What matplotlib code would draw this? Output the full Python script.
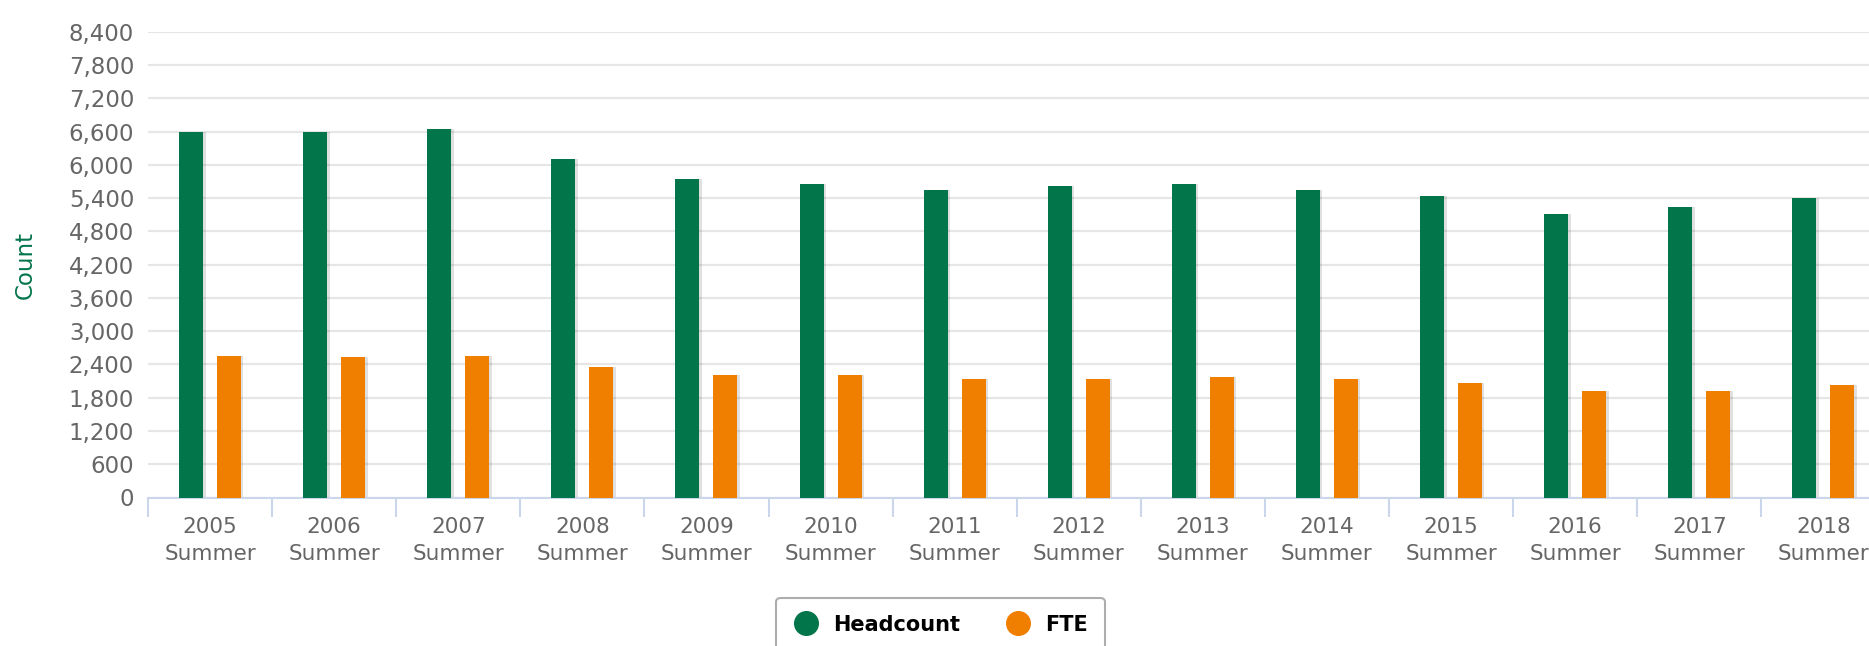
import numpy as np
import matplotlib
matplotlib.use("Agg")
import matplotlib.pyplot as plt
from matplotlib.lines import Line2D
from matplotlib.ticker import FuncFormatter

plt.rcParams['font.family'] = ['DejaVu Sans']

years = ['2005', '2006', '2007', '2008', '2009', '2010', '2011',
         '2012', '2013', '2014', '2015', '2016', '2017', '2018']
term = 'Summer'
headcount = [6590, 6590, 6640, 6100, 5750, 5650, 5540,
             5610, 5650, 5540, 5430, 5110, 5230, 5410]
fte = [2555, 2525, 2560, 2345, 2210, 2210, 2140,
       2140, 2180, 2140, 2070, 1920, 1920, 2030]
y_ticks = list(range(0, 8401, 600))

green = '#03754b'
orange = '#f07f00'
grey_text = '#666666'
axis_blue = '#ccd6eb'

fig = plt.figure(figsize=(18.69, 6.46), dpi=100)
# plot area runs past the right edge of the picture, like the screenshot
ax = fig.add_axes([148 / 1869, 1 - 497.5 / 646, 1737.4 / 1869, (497.5 - 31.7) / 646])

x = np.arange(len(years))
off = 0.153
w = 0.193

# soft shadows behind the bars
ax.bar(x - off + 0.014, headcount, w + 0.012, color='#000000', alpha=0.12, zorder=2)
ax.bar(x + off + 0.014, fte, w + 0.012, color='#000000', alpha=0.12, zorder=2)
ax.bar(x - off, headcount, w, color=green, zorder=3)
ax.bar(x + off, fte, w, color=orange, zorder=3)

ax.set_xlim(-0.5, len(years) - 0.5)
ax.set_ylim(0, 8400)
ax.set_yticks(y_ticks)
ax.yaxis.set_major_formatter(FuncFormatter(lambda v, p: f'{int(v):,}'))
ax.grid(axis='y', color='#e6e6e6', linewidth=1.6, zorder=0)
ax.set_axisbelow(True)

ax.set_xticks(x)
ax.set_xticklabels([f'{y}\n{term}' for y in years])
ax.set_xticks(np.arange(-0.5, len(years)), minor=True)
ax.tick_params(axis='x', which='major', length=0, pad=14, labelsize=15.5,
               labelcolor=grey_text)
ax.tick_params(axis='x', which='minor', length=14, width=1.5, color=axis_blue)
ax.tick_params(axis='y', length=0, pad=10, labelsize=16.5, labelcolor=grey_text)
for lbl in ax.get_xticklabels():
    lbl.set_linespacing(1.45)

for s in ['top', 'right', 'left']:
    ax.spines[s].set_visible(False)
ax.spines['bottom'].set_color(axis_blue)
ax.spines['bottom'].set_linewidth(1.5)

ax.set_ylabel('Count', color=green, fontsize=16.5)
ax.yaxis.set_label_coords(-0.064, 0.5)

handles = [Line2D([], [], marker='o', linestyle='none', markersize=17,
                  markerfacecolor=green, markeredgecolor=green),
           Line2D([], [], marker='o', linestyle='none', markersize=17,
                  markerfacecolor=orange, markeredgecolor=orange)]
leg = fig.legend(handles, ['Headcount', 'FTE'], loc='upper center',
                 bbox_to_anchor=(940.5 / 1869, 1 - 598 / 646), ncol=2,
                 frameon=True, fancybox=True, handlelength=1.2,
                 handletextpad=0.7, columnspacing=2.2, borderpad=0.8,
                 borderaxespad=0, prop={'size': 15, 'weight': 'bold'})
leg.get_frame().set_edgecolor('#999999')
leg.get_frame().set_linewidth(1.5)

fig.savefig('out.png', dpi=100)
